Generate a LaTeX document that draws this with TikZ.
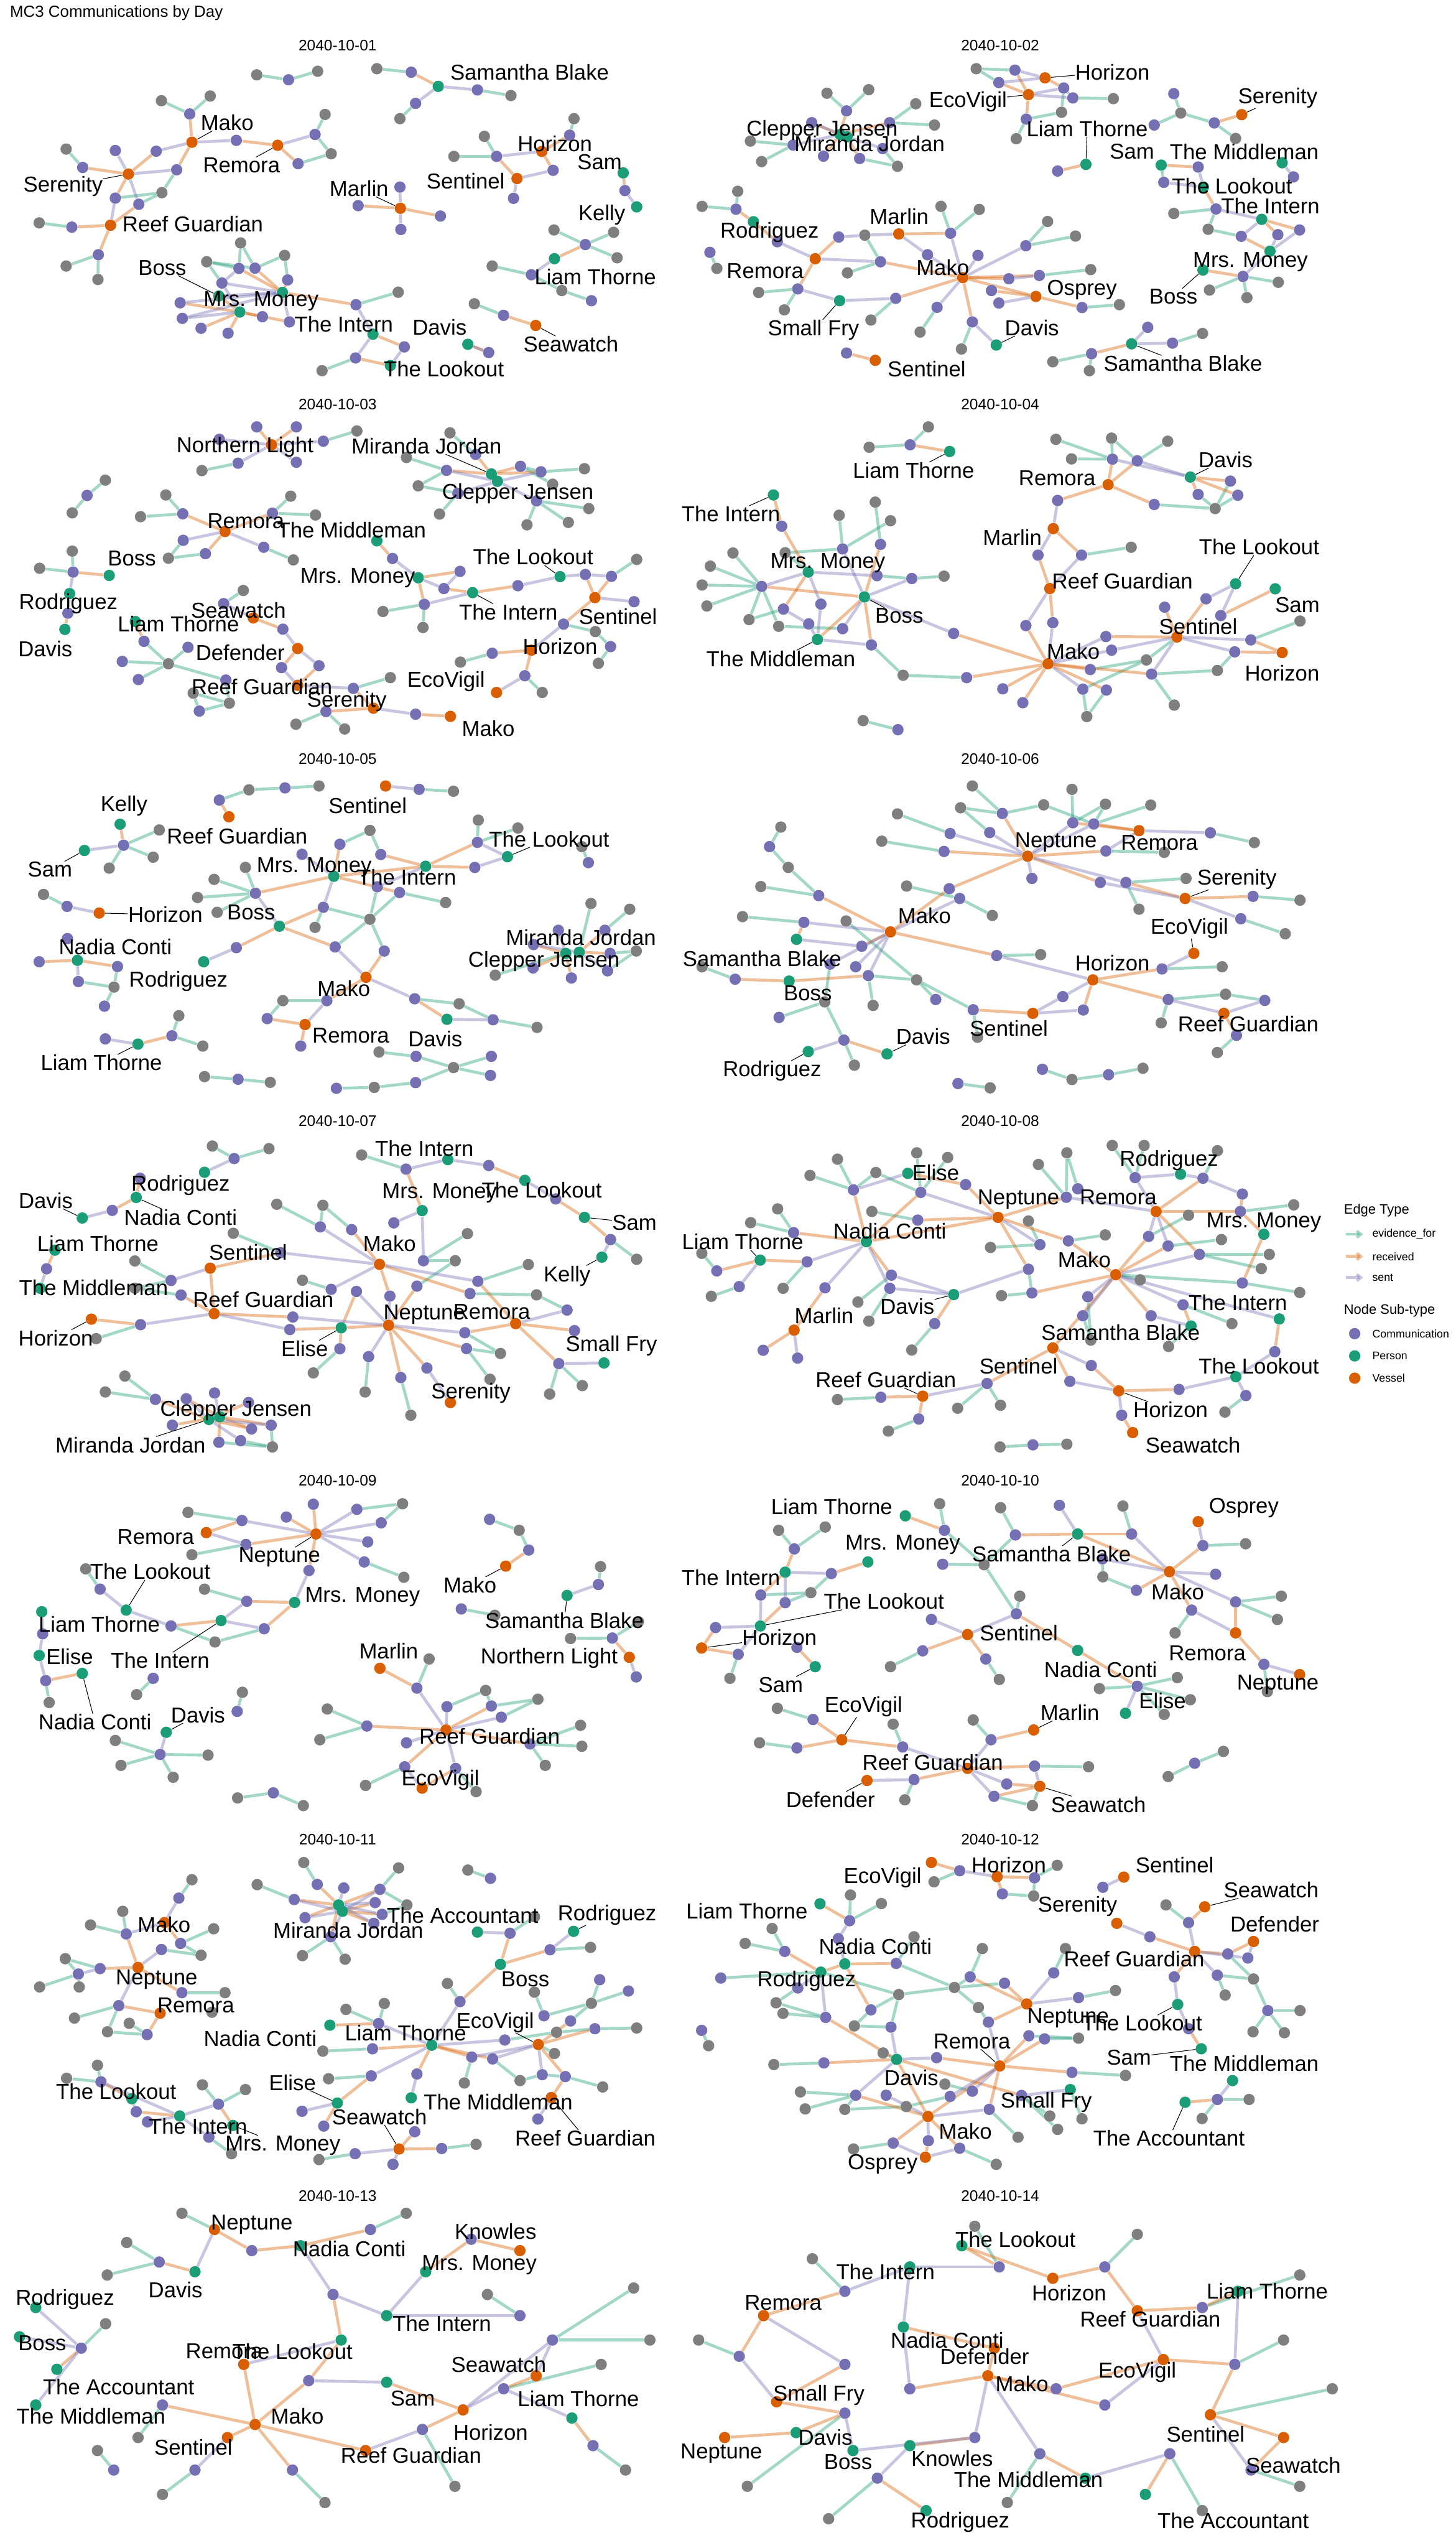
\documentclass[tikz,border=0pt]{standalone}
\usepackage{fontspec}
\setmainfont{Liberation Sans}
\usetikzlibrary{arrows.meta}
\pgfdeclarelayer{bgl}
\pgfdeclarelayer{edges}
\pgfsetlayers{bgl,edges,main}
\definecolor{cP}{HTML}{7570B3}
\definecolor{cG}{HTML}{1B9E77}
\definecolor{cO}{HTML}{D95F02}
\definecolor{cY}{HTML}{7F7F7F}
\tikzset{
 nd/.style={circle,inner sep=0pt,minimum size=7pt,draw=none},
 ed/.style={line width=1.8pt,draw opacity=0.4},
 eg/.style={ed,draw=cG}, eo/.style={ed,draw=cO}, ep/.style={ed,draw=cP},
 lbl/.style={inner sep=0pt,font=\fontsize{13.3}{14}\selectfont},
 ldr/.style={draw=black,line width=0.4pt},
 dt/.style={inner sep=0pt,font=\fontsize{9.4}{10}\selectfont},
 lgt/.style={inner sep=0pt,anchor=west,font=\fontsize{8.4}{9}\selectfont},
 lge/.style={inner sep=0pt,anchor=west,font=\fontsize{6.8}{7}\selectfont},
}
\newcommand\nds[1]{\foreach \nm/\ty/\x/\y in {#1} {\node[nd,fill=c\ty] (\nm) at (\x,\y) {};}}
\newcommand\edg[2]{\foreach \u/\v in {#2} {\draw[#1] (\u)--(\v);}}
\newcommand\lbs[1]{\foreach \nm/\x/\y/\tx in {#1} {\node[lbl] (\nm) at (\x,\y) {\tx};}}
\newcommand\ldrs[1]{\foreach \u/\v in {#1} {\draw[ldr] (\u)--(\v);}}
\begin{document}
\begin{tikzpicture}[x=1pt,y=-1pt]
\begin{pgfonlayer}{bgl}
\fill[white] (0,0) rectangle (896,1568);
\end{pgfonlayer}
\useasboundingbox (0,0) rectangle (896,1568);
\node[inner sep=0pt,anchor=west,font=\fontsize{9.9}{10}\selectfont] (title) at (6,8) {MC3 Communications by Day};
\node[dt] (d01) at (207.8,28) {2040-10-01};
\node[dt] (d02) at (615.6,28) {2040-10-02};
\node[dt] (d03) at (207.8,248.8) {2040-10-03};
\node[dt] (d04) at (615.6,248.8) {2040-10-04};
\node[dt] (d05) at (207.8,467) {2040-10-05};
\node[dt] (d06) at (615.6,467) {2040-10-06};
\node[dt] (d07) at (207.8,690) {2040-10-07};
\node[dt] (d08) at (615.6,690) {2040-10-08};
\node[dt] (d09) at (207.8,911) {2040-10-09};
\node[dt] (d10) at (615.6,911) {2040-10-10};
\node[dt] (d11) at (207.8,1132) {2040-10-11};
\node[dt] (d12) at (615.6,1132) {2040-10-12};
\node[dt] (d13) at (207.8,1351.5) {2040-10-13};
\node[dt] (d14) at (615.6,1351.5) {2040-10-14};
% legend
\node[lgt] (lgE) at (827,745) {Edge Type};
\coordinate (lgA1) at (828.5,759.5); \coordinate (lgB1) at (839,759.5);
\coordinate (lgA2) at (828.5,773.2); \coordinate (lgB2) at (839,773.2);
\coordinate (lgA3) at (828.5,786.2); \coordinate (lgB3) at (839,786.2);
\draw[eg,-{Straight Barb[length=2.5pt,width=4pt]}] (lgA1)--(lgB1);
\draw[eo,-{Straight Barb[length=2.5pt,width=4pt]}] (lgA2)--(lgB2);
\draw[ep,-{Straight Barb[length=2.5pt,width=4pt]}] (lgA3)--(lgB3);
\node[lge] (lgt1) at (844.5,759.5) {evidence\_for};
\node[lge] (lgt2) at (844.5,773.2) {received};
\node[lge] (lgt3) at (844.5,786.2) {sent};
\node[lgt] (lgN) at (827,806.4) {Node Sub-type};
\node[nd,fill=cP] (lgc1) at (833.8,820.7) {};
\node[nd,fill=cG] (lgc2) at (833.8,834.4) {};
\node[nd,fill=cO] (lgc3) at (833.8,848.1) {};
\node[lge] (lgu1) at (844.5,820.7) {Communication};
\node[lge] (lgu2) at (844.5,834.4) {Person};
\node[lge] (lgu3) at (844.5,848.1) {Vessel};
% ---------------- panel 1
\begin{scope}[shift={(0,8.75)},x=0.26786pt,y=-0.14509pt]
\nds{a1/Y/590/257,a2/P/663/278,a3/Y/730/242,a4/Y/866/231,a5/P/945/246,a6/G/1007/306,a7/P/1097/321,a8/Y/1174/345,a9/P/955/378,a10/Y/919/443,a11/Y/371/367,a12/Y/483/347,a13/P/436/423,a14/O/441/543,a15/P/543/535,a16/O/638/556,a17/P/724/510,a18/Y/747/425,a19/Y/761/592,a20/P/685/634,a21/O/295/678,a22/Y/152/572,a23/P/190/650,a24/P/265/578,a25/P/359/581,a26/P/406/660,a27/Y/372/757,a28/P/265/780,a29/P/319/806,a30/O/254/895,a31/P/165/903,a32/Y/90/885,a33/P/226/1020,a34/Y/152/1068,a35/Y/225/1125,a36/P/919/733,a37/O/920/823,a38/P/823/812,a39/P/1012/856,a40/P/921/913,a41/Y/1113/518,a42/Y/1043/603,a43/P/1141/603,a44/O/1245/582,a45/Y/1319/443,a46/P/1309/513,a47/O/1188/697,a48/P/1271/662,a49/P/1180/781,a50/G/1432/673,a51/P/1436/748,a52/G/1463/817,a53/Y/1273/915,a54/Y/1410/925,a55/P/1345/977,a56/Y/1418/1033,a57/G/1274/1037,a58/P/1221/1105,a59/Y/1131/1068,a60/Y/1291/1172,a61/P/1359/1215,a62/Y/553/970,a63/Y/475/1050,a64/Y/654/1023,a65/P/549/1078,a66/P/586/1077,a67/P/661/1127,a68/P/510/1140,a69/G/649/1180,a70/P/414/1224,a71/P/419/1290,a72/G/551/1263,a73/P/603/1283,a74/P/665/1305,a75/P/462/1332,a76/P/524/1353,a77/P/818/1232,a78/Y/915/1179,a79/G/857/1357,a80/P/929/1411,a81/P/817/1458,a82/Y/740/1512,a83/G/897/1490,a84/G/503/1195,a85/G/1075/1400,a86/P/1123/1435,a87/Y/1090/1228,a88/P/1157/1277,a89/O/1231/1320}
\begin{pgfonlayer}{edges}
\edg{eg}{a1/a2,a2/a3,a4/a5,a7/a8,a9/a10,a11/a13,a12/a13,a17/a18,a17/a19,a19/a20,a22/a23,a26/a27,a27/a28,a27/a29,a31/a32,a33/a34,a33/a35,a45/a46,a41/a43,a42/a43,a53/a55,a54/a55,a55/a56,a59/a58,a58/a60,a60/a61,a62/a65,a62/a66,a63/a65,a63/a66,a64/a66,a64/a67,a77/a78,a81/a82,a87/a88,a63/a68}
\edg{eo}{a5/a6,a13/a14,a15/a16,a16/a20,a23/a21,a21/a25,a26/a14,a21/a28,a29/a30,a30/a31,a30/a33,a38/a37,a37/a39,a44/a46,a43/a47,a44/a48,a50/a51,a55/a57,a65/a69,a66/a69,a67/a69,a70/a72,a75/a72,a76/a72,a72/a73,a72/a74,a69/a77,a79/a80,a81/a83,a88/a89,a85/a86,a84/a72}
\edg{ep}{a6/a7,a6/a9,a14/a15,a16/a17,a24/a21,a25/a14,a21/a26,a21/a29,a28/a30,a36/a37,a37/a40,a43/a44,a48/a47,a47/a49,a51/a52,a57/a58,a68/a69,a65/a68,a68/a72,a71/a72,a77/a79,a79/a81,a80/a83,a69/a74,a70/a69,a71/a69,a84/a69,a85/a86}
\end{pgfonlayer}
\lbs{aL1/1217/245/Samantha Blake,aL2/522/460/Mako,aL3/555/640/Remora,aL4/145/730/Serenity,aL5/443/890/Reef Guardian,aL6/825/740/Marlin,aL7/1275/550/Horizon,aL8/1070/708/Sentinel,aL9/1378/628/Sam,aL10/1383/850/Kelly,aL11/1368/1115/Liam Thorne,aL12/373/1075/Boss,aL13/600/1218/Mrs. Money,aL14/790/1315/The Intern,aL15/1010/1328/Davis,aL16/1020/1505/The Lookout,aL17/1312/1400/Seawatch}
\ldrs{aL2/a14,aL3/a16,aL4/a21,aL6/a37,aL12/a84,aL17/a89}
\end{scope}
% ---------------- panel 2
\begin{scope}[shift={(414.17,8.75)},x=0.26786pt,y=-0.14509pt]
\nds{b1/Y/697/231,b2/P/786/237,b3/O/855/270,b4/P/749/290,b5/P/898/313,b6/O/817/341,b7/P/919/355,b8/Y/1012/358,b9/Y/893/416,b10/P/812/445,b11/Y/789/528,b12/Y/354/335,b13/Y/450/320,b14/P/399/410,b15/Y/558/380,b16/P/498/460,b17/Y/601/470,b18/P/319/460,b19/G/384/510,b20/G/400/520,b21/Y/178/538,b22/P/276/555,b23/Y/204/625,b24/P/346/602,b25/P/429/612,b26/P/482/570,b27/Y/516/645,b28/G/949/637,b29/P/884/665,b30/P/1151/337,b31/Y/1167/419,b32/P/1106/470,b33/P/1244/461,b34/O/1307/426,b35/Y/1293/527,b36/G/1122/640,b37/P/1207/648,b38/P/1128/713,b39/G/1219/733,b40/G/1400/630,b41/P/1426/690,b42/P/1248/826,b43/Y/1151/845,b44/G/1353/870,b45/Y/1230/912,b46/P/1306/942,b47/P/1390/935,b48/P/1440/915,b49/G/1372/1005,b50/G/1218/1085,b51/P/1310/1112,b52/Y/1391/1137,b53/Y/1233/1170,b54/Y/1319/1202,b55/Y/149/751,b56/Y/67/815,b57/P/145/827,b58/G/185/880,b59/P/240/965,b60/O/327/1037,b61/P/85/1010,b62/Y/101/1078,b63/P/381/945,b64/Y/441/937,b65/O/519/932,b66/Y/616/815,b67/Y/704/828,b68/P/638/929,b69/P/585/1020,b70/P/477/1050,b71/Y/401/1097,b72/O/666/1117,b73/P/701/1023,b74/Y/861/879,b75/Y/925/941,b76/P/811/982,b77/P/772/1122,b78/P/842/1108,b79/Y/960/1083,b80/P/732/1172,b81/O/834/1197,b82/P/749/1225,b83/P/940/1244,b84/Y/1026/1232,b85/P/287/1165,b86/Y/197/1180,b87/Y/256/1254,b88/G/383/1215,b89/P/512/1205,b90/Y/455/1297,b91/P/607/1243,b92/Y/568/1348,b93/P/688/1305,b94/Y/663/1420,b95/G/743/1403,b96/P/399/1437,b97/O/465/1468,b98/P/1091/1328,b99/G/1054/1398,b100/P/1148/1395,b101/Y/1217/1354,b102/P/962/1440,b103/Y/873/1474,b104/Y/957/1512}
\begin{pgfonlayer}{edges}
\edg{eg}{b1/b2,b1/b4,b7/b8,b9/b10,b10/b11,b9/b5,b12/b14,b13/b14,b15/b16,b16/b17,b21/b22,b22/b23,b25/b27,b26/b27,b30/b31,b31/b32,b31/b33,b33/b35,b42/b43,b42/b45,b45/b46,b51/b52,b51/b53,b51/b54,b55/b57,b56/b57,b64/b70,b71/b70,b66/b68,b67/b68,b74/b76,b75/b76,b78/b79,b83/b84,b86/b85,b87/b85,b89/b90,b91/b92,b93/b94,b61/b62,b100/b101,b102/b103,b102/b104,b36/b38}
\edg{eo}{b2/b6,b4/b6,b3/b5,b6/b10,b14/b19,b16/b19,b18/b19,b19/b24,b20/b25,b29/b28,b33/b34,b36/b37,b39/b42,b44/b47,b44/b48,b46/b49,b50/b51,b57/b58,b58/b59,b63/b60,b65/b68,b70/b72,b72/b77,b72/b78,b72/b81,b80/b81,b81/b83,b60/b85,b89/b72,b72/b93,b96/b97,b99/b102}
\edg{ep}{b2/b3,b4/b3,b6/b5,b6/b7,b5/b7,b22/b19,b20/b26,b18/b20,b37/b39,b38/b39,b42/b44,b46/b44,b47/b49,b48/b49,b49/b51,b40/b41,b59/b60,b63/b64,b64/b65,b65/b69,b68/b72,b69/b72,b60/b70,b73/b72,b76/b72,b77/b78,b82/b81,b85/b88,b88/b89,b91/b72,b93/b95,b98/b99,b99/b100}
\end{pgfonlayer}
\lbs{bL1/1010/245/Horizon,bL2/678/370/EcoVigil,bL3/343/492/Clepper Jensen,bL4/452/550/Miranda Jordan,bL5/952/485/Liam Thorne,bL6/1390/355/Serenity,bL7/1055/583/Sam,bL8/1313/583/The Middleman,bL9/1285/730/The Lookout,bL10/1373/812/The Intern,bL11/1327/1052/Mrs. Money,bL12/1150/1197/Boss,bL13/222/925/Rodriguez,bL14/212/1090/Remora,bL15/520/858/Marlin,bL16/620/1075/Mako,bL17/940/1170/Osprey,bL18/323/1340/Small Fry,bL19/825/1330/Davis,bL20/583/1505/Sentinel,bL21/1172/1482/Samantha Blake}
\ldrs{bL1/b3,bL2/b6,bL5/b28,bL6/b34,bL12/b50,bL18/b88,bL19/b95,bL21/b99}
\end{scope}
% ---------------- panel 3
\begin{scope}[shift={(0,236.25)},x=0.26786pt,y=-0.14696pt]
\nds{c1/P/590/180,c2/P/681/180,c3/O/624/255,c4/P/504/232,c5/P/743/240,c6/Y/820/197,c7/P/547/332,c8/Y/464/363,c9/P/681/328,c10/Y/1034/205,c11/P/1093/295,c12/Y/934/308,c13/P/1026/362,c14/G/1129/377,c15/G/1143/408,c16/P/1196/345,c17/P/1243/368,c18/Y/1343/355,c19/Y/1270/420,c20/Y/961/427,c21/P/1052/458,c22/P/1233/490,c23/Y/1353/522,c24/Y/1010/545,c25/Y/1211/590,c26/Y/1306/580,c27/Y/242/403,c28/P/200/467,c29/Y/166/540,c30/Y/381/465,c31/Y/668/470,c32/P/420/544,c33/Y/323/556,c34/P/626/541,c35/Y/725/549,c36/O/517/618,c37/P/421/655,c38/P/472/711,c39/Y/387/730,c40/P/606/684,c41/Y/674/737,c42/Y/166/700,c43/Y/91/772,c44/P/168/788,c45/G/251/802,c46/G/160/878,c47/P/156/960,c48/G/149/1028,c49/G/866/657,c50/P/902/731,c51/G/961/812,c52/P/1057/785,c53/P/1020/857,c54/G/1086/874,c55/P/975/923,c56/Y/880/953,c57/Y/972/1020,c58/P/1190/845,c59/G/1287/807,c60/P/1345/798,c61/P/1405/806,c62/Y/1463/735,c63/O/1367/895,c64/P/1457/912,c65/P/1295/1006,c66/Y/1368/1037,c67/P/1403/1100,c68/Y/1375/1170,c69/O/1221/1115,c70/P/1131/1128,c71/Y/1058/1165,c72/P/1206/1222,c73/Y/1246/1292,c74/O/1141/1292,c75/Y/559/865,c76/P/514/920,c77/O/582/980,c78/P/650/1027,c79/O/684/1108,c80/P/733/1180,c81/P/647/1188,c82/O/684/1262,c83/P/812/1275,c84/Y/897/1230,c85/G/311/995,c86/P/331/1078,c87/P/432/1103,c88/P/281/1162,c89/Y/387/1172,c90/P/318/1238,c91/P/519/1240,c92/Y/444/1295,c93/Y/527/1337,c94/P/458/1370,c95/O/858/1358,c96/P/749/1372,c97/Y/680/1425,c98/Y/792/1445,c99/P/955/1383,c100/O/1035/1392}
\begin{pgfonlayer}{edges}
\edg{eg}{c5/c6,c7/c8,c10/c11,c12/c13,c16/c17,c17/c18,c16/c19,c20/c13,c20/c21,c21/c24,c22/c23,c22/c25,c22/c26,c27/c28,c28/c29,c30/c32,c33/c32,c31/c34,c34/c35,c37/c39,c38/c39,c40/c41,c42/c44,c43/c44,c56/c55,c55/c57,c61/c62,c65/c66,c66/c67,c67/c68,c70/c71,c72/c73,c75/c76,c83/c84,c86/c89,c87/c89,c88/c89,c89/c90,c89/c91,c92/c94,c93/c94,c92/c93,c96/c97,c96/c98,c91/c93}
\edg{eo}{c1/c3,c2/c3,c13/c14,c11/c14,c14/c16,c14/c17,c32/c36,c34/c36,c36/c38,c44/c45,c47/c48,c49/c50,c51/c52,c53/c54,c51/c55,c54/c58,c60/c63,c61/c63,c63/c65,c70/c69,c69/c72,c77/c78,c79/c81,c80/c82,c83/c95,c85/c86,c96/c95,c99/c100}
\edg{ep}{c4/c3,c3/c7,c3/c9,c3/c5,c13/c15,c15/c17,c21/c15,c22/c15,c36/c37,c36/c40,c44/c46,c46/c47,c50/c51,c52/c53,c51/c53,c55/c54,c58/c59,c59/c60,c60/c61,c63/c64,c65/c69,c72/c74,c76/c77,c78/c79,c79/c80,c81/c82,c82/c83,c95/c99}
\end{pgfonlayer}
\lbs{cL1/563/265/Northern Light,cL2/980/260/Miranda Jordan,cL3/1190/460/Clepper Jensen,cL4/565/575/Remora,cL5/808/612/The Middleman,cL6/303/730/Boss,cL7/157/920/Rodriguez,cL8/104/1110/Davis,cL9/1225/725/The Lookout,cL10/822/812/Mrs. Money,cL11/1168/955/The Intern,cL12/1420/975/Sentinel,cL13/1287/1098/Horizon,cL14/1025/1245/EcoVigil,cL15/548/948/Seawatch,cL16/410/1005/Liam Thorne,cL17/552/1125/Defender,cL18/602/1268/Reef Guardian,cL19/797/1330/Serenity,cL20/1122/1442/Mako}
\ldrs{cL2/c14,cL9/c59,cL11/c54}
\end{scope}
% ---------------- panel 4
\begin{scope}[shift={(414.17,236.25)},x=0.26786pt,y=-0.14696pt]
\nds{d1/Y/587/180,d2/P/545/255,d3/Y/451/265,d4/G/636/283,d5/Y/880/232,d6/Y/1008/227,d7/Y/1137/240,d8/Y/916/314,d9/P/1010/315,d10/P/1067/322,d11/O/1000/422,d12/G/1189/390,d13/P/1281/407,d14/P/1298/466,d15/P/1207/463,d16/Y/1246/522,d17/P/1106/505,d18/P/884/488,d19/O/874/606,d20/P/839/717,d21/P/939/717,d22/Y/1053/684,d23/O/866/857,d24/P/811/1012,d25/P/873/1000,d26/O/862/1172,d27/P/995/1058,d28/P/1008/1115,d29/P/959/1196,d30/Y/1088/1156,d31/P/1100/1215,d32/P/942/1278,d33/P/996/1282,d34/Y/951/1393,d35/P/758/1277,d36/P/804/1335,d37/P/675/1230,d38/Y/529/1220,d39/P/645/1045,d40/O/1158/1060,d41/P/1130/935,d42/P/1225/900,d43/G/1293/837,d44/P/1259/970,d45/G/1384/858,d46/P/1328/1072,d47/Y/1441/993,d48/P/1291/1122,d49/O/1400/1125,d50/Y/1251/1200,d51/Y/1152/1345,d52/G/231/465,d53/P/250/596,d54/Y/465/495,d55/Y/382/550,d56/Y/500/573,d57/P/477/672,d58/P/390/691,d59/Y/258/707,d60/Y/138/708,d61/Y/86/763,d62/G/311/788,d63/P/469/803,d64/P/549/815,d65/Y/623/805,d66/P/204/848,d67/Y/67/842,d68/Y/78/930,d69/G/440/892,d70/P/340/922,d71/P/254/943,d72/Y/175/987,d73/Y/243/1015,d74/P/312/1005,d75/P/390/1025,d76/G/332/1070,d77/P/456/1093,d78/Y/437/1410,d79/P/517/1448}
\begin{pgfonlayer}{edges}
\edg{eg}{d1/d2,d3/d2,d5/d9,d6/d9,d6/d10,d7/d10,d8/d9,d15/d16,d14/d16,d13/d16,d17/d16,d21/d22,d29/d30,d32/d30,d30/d40,d32/d34,d33/d34,d31/d50,d31/d51,d46/d47,d48/d50,d37/d38,d55/d58,d54/d57,d56/d58,d59/d58,d60/d66,d61/d66,d67/d66,d68/d66,d63/d64,d64/d65,d66/d72,d66/d73,d72/d71,d73/d75,d77/d38,d78/d79,d59/d62}
\edg{eo}{d2/d4,d9/d11,d10/d11,d12/d13,d12/d14,d12/d15,d11/d17,d11/d18,d19/d21,d20/d23,d23/d25,d24/d26,d26/d29,d26/d31,d26/d33,d26/d35,d26/d36,d26/d37,d39/d26,d27/d40,d41/d40,d40/d42,d44/d45,d46/d49,d48/d49,d52/d53,d53/d62,d57/d69,d66/d69,d62/d71,d69/d76,d69/d77}
\edg{ep}{d10/d12,d9/d12,d18/d19,d19/d20,d21/d23,d23/d24,d25/d26,d27/d26,d28/d26,d28/d40,d31/d40,d42/d43,d43/d44,d40/d46,d40/d48,d26/d32,d58/d69,d66/d62,d62/d63,d69/d64,d62/d70,d69/d75,d70/d76,d71/d74,d74/d76,d76/d77,d39/d69}
\end{pgfonlayer}
\lbs{dL1/553/362/Liam Thorne,dL2/883/395/Remora,dL3/1270/318/Davis,dL4/780/643/Marlin,dL5/1033/825/Reef Guardian,dL6/920/1120/Mako,dL7/1207/1015/Sentinel,dL8/1347/683/The Lookout,dL9/1435/925/Sam,dL10/1400/1210/Horizon,dL11/133/545/The Intern,dL12/356/750/Mrs. Money,dL13/520/970/Boss,dL14/248/1150/The Middleman}
\ldrs{dL1/d4,dL3/d12,dL8/d43,dL11/d52,dL13/d69,dL14/d76}
\end{scope}
% ---------------- panel 5
\begin{scope}[shift={(0,469.58)},x=0.26786pt,y=-0.14696pt]
\nds{e1/P/504/155,e2/Y/572/112,e3/P/655/104,e4/Y/733/96,e5/O/526/225,e6/O/886/96,e7/P/963/110,e8/Y/1042/118,e9/G/276/256,e10/Y/366/280,e11/P/284/344,e12/G/194/366,e13/Y/352/394,e14/Y/251/440,e15/Y/100/550,e16/P/154/600,e17/O/228/628,e18/P/155/735,e19/P/90/832,e20/G/178/826,e21/P/270/852,e22/P/180/915,e23/Y/262/938,e24/P/240/1018,e25/P/242/1155,e26/G/317/1177,e27/P/395/1142,e28/Y/411/1058,e29/Y/466/1185,e30/Y/470/1313,e31/P/547/1324,e32/Y/621/1337,e33/Y/850/282,e34/P/781/340,e35/P/694/382,e36/P/875/383,e37/Y/1099/239,e38/Y/1190/272,e39/P/1097/332,e40/Y/1337/350,e41/P/1352/417,e42/G/1166/392,e43/G/978/432,e44/P/1091/437,e45/Y/564/437,e46/Y/492/487,e47/G/767/474,e48/P/587/545,e49/Y/454/563,e50/P/867/518,e51/P/918/542,e52/Y/1024/584,e53/Y/499/625,e54/P/743/604,e55/Y/850/654,e56/G/642/683,e57/Y/724/688,e58/P/770/770,e59/P/883/787,e60/O/841/897,e61/P/543/773,e62/G/468/832,e63/P/953/987,e64/Y/1055/1008,e65/G/1027/1073,e66/P/1133/1075,e67/Y/1234/1107,e68/P/751/995,e69/Y/650/995,e70/P/614/1070,e71/O/701/1095,e72/P/691/1185,e73/Y/1358/588,e74/Y/1447/612,e75/P/1283/700,e76/P/1390/700,e77/P/1226/760,e78/G/1300/797,e79/G/1331/792,e80/P/1402/797,e81/Y/1462/787,e82/P/1225/858,e83/P/1396/870,e84/Y/1138/888,e85/P/1313/900,e86/Y/871/1210,e87/P/956/1228,e88/Y/1042/1275,e89/P/1129/1228,e90/P/1127/1308,e91/P/955/1338,e92/Y/860/1358,e93/P/773/1362}
\begin{pgfonlayer}{edges}
\edg{eg}{e1/e2,e2/e3,e3/e4,e7/e8,e10/e11,e11/e13,e11/e14,e15/e16,e22/e23,e21/e23,e23/e24,e27/e28,e27/e29,e30/e31,e31/e32,e33/e34,e33/e36,e37/e39,e38/e39,e40/e41,e51/e52,e45/e48,e46/e48,e49/e48,e53/e48,e54/e55,e54/e57,e50/e55,e51/e55,e55/e58,e55/e59,e63/e64,e64/e66,e66/e67,e69/e68,e69/e70,e73/e79,e74/e76,e80/e81,e84/e78,e81/e83,e86/e87,e87/e88,e88/e89,e88/e90,e88/e91,e91/e92,e92/e93}
\edg{eo}{e1/e5,e9/e11,e19/e20,e20/e21,e26/e27,e34/e47,e36/e43,e43/e39,e44/e43,e47/e43,e47/e51,e48/e47,e54/e56,e56/e58,e61/e56,e59/e60,e63/e65,e60/e68,e70/e71,e71/e72,e77/e78,e76/e79,e79/e80,e78/e82,e85/e78}
\edg{ep}{e6/e7,e12/e11,e16/e17,e20/e22,e25/e26,e35/e47,e39/e42,e42/e44,e50/e43,e48/e56,e47/e54,e62/e61,e58/e60,e60/e63,e65/e66,e68/e71,e75/e78,e77/e79,e83/e79}
\end{pgfonlayer}
\lbs{eL1/545/307/Reef Guardian,eL2/845/178/Sentinel,eL3/285/180/Kelly,eL4/115/445/Sam,eL5/380/635/Horizon,eL6/265/770/Nadia Conti,eL7/410/915/Rodriguez,eL8/233/1255/Liam Thorne,eL9/722/435/Mrs. Money,eL10/935/478/The Intern,eL11/1262/318/The Lookout,eL12/577/625/Boss,eL13/790/945/Mako,eL14/806/1140/Remora,eL15/1000/1155/Davis,eL16/1335/730/Miranda Jordan,eL17/1250/830/Clepper Jensen}
\ldrs{eL4/e12,eL5/e17,eL8/e26,eL11/e42}
\end{scope}
% ---------------- panel 6
\begin{scope}[shift={(414.17,469.58)},x=0.26786pt,y=-0.14696pt]
\nds{f1/Y/688/96,f2/Y/917/110,f3/Y/661/187,f4/P/757/211,f5/Y/852/175,f6/Y/994/172,f7/Y/1098/176,f8/Y/516/213,f9/P/919/250,f10/P/967/255,f11/O/1071/283,f12/P/1235/292,f13/Y/1336/333,f14/P/637/295,f15/P/728/291,f16/Y/480/327,f17/P/623/370,f18/O/815/390,f19/P/995/368,f20/Y/1129/374,f21/P/825/483,f22/P/982/500,f23/P/1041/500,f24/Y/1179/483,f25/O/1177/567,f26/P/1333/558,f27/Y/1441/574,f28/Y/1071/612,f29/P/1305/652,f30/Y/1407/715,f31/P/635/526,f32/P/659/567,f33/Y/537/515,f34/Y/734/638,f35/O/500/707,f36/Y/248/268,f37/P/222/350,f38/Y/265/437,f39/P/335/555,f40/Y/202/517,f41/Y/160/643,f42/P/301/667,f43/Y/398/661,f44/G/284/738,f45/P/434/767,f46/P/361/842,f47/P/420/853,f48/P/449/890,f49/Y/67/853,f50/P/143/905,f51/G/267/913,f52/Y/560/908,f53/P/604/990,f54/Y/460/1015,f55/Y/349/1000,f56/P/244/1065,f57/P/690/1033,f58/O/827/1048,f59/P/943/1034,f60/P/896/978,f61/O/965/908,f62/P/1124/862,f63/Y/1262/853,f64/O/1197/797,f65/P/744/806,f66/Y/845/802,f67/P/1138/990,f68/Y/1270/968,f69/P/1360/994,f70/O/1266/1048,f71/Y/1122/1088,f72/P/1295/1140,f73/Y/1251/1212,f74/P/393/1160,f75/G/311/1208,f76/G/492/1218,f77/Y/417/1265,f78/Y/700/1148,f79/P/849/1282,f80/Y/917/1325,f81/P/1001/1305,f82/Y/1080/1278,f83/P/655/1342,f84/Y/729/1360}
\begin{pgfonlayer}{edges}
\edg{eg}{f1/f4,f3/f4,f4/f5,f5/f10,f2/f9,f6/f9,f6/f10,f7/f10,f12/f13,f8/f14,f3/f15,f16/f17,f19/f20,f23/f24,f26/f27,f23/f28,f29/f30,f33/f32,f32/f34,f36/f37,f37/f38,f38/f39,f40/f39,f41/f42,f43/f52,f49/f50,f48/f52,f52/f53,f52/f57,f48/f54,f46/f55,f55/f56,f55/f74,f74/f77,f65/f66,f62/f63,f67/f68,f68/f69,f67/f71,f72/f73,f57/f78,f79/f80,f80/f81,f81/f82,f83/f84}
\edg{eo}{f4/f18,f9/f11,f10/f11,f17/f18,f18/f19,f18/f22,f23/f25,f25/f26,f18/f31,f39/f35,f35/f45,f35/f31,f50/f51,f51/f48,f74/f76,f35/f65,f57/f58,f59/f61,f61/f62,f61/f67,f70/f72,f42/f44}
\edg{ep}{f11/f12,f14/f18,f15/f18,f9/f18,f10/f18,f19/f11,f18/f21,f18/f23,f22/f25,f25/f29,f35/f32,f42/f35,f44/f45,f35/f46,f35/f47,f35/f48,f74/f75,f65/f61,f58/f59,f60/f58,f60/f61,f62/f64,f69/f70,f67/f70}
\end{pgfonlayer}
\lbs{fL1/880/333/Neptune,fL2/1118/333/Remora,fL3/1296/487/Serenity,fL4/1187/692/EcoVigil,fL5/578/640/Mako,fL6/205/820/Samantha Blake,fL7/310/965/Boss,fL8/1010/838/Horizon,fL9/772/1112/Sentinel,fL10/1322/1093/Reef Guardian,fL11/575/1145/Davis,fL12/228/1290/Rodriguez}
\ldrs{fL3/f25,fL4/f64,fL11/f76,fL12/f75}
\end{scope}
% ---------------- panel 7
\begin{scope}[shift={(0,702.92)},x=0.26786pt,y=-0.13022pt]
\nds{g1/Y/488/18,g2/Y/618/30,g3/P/538/77,g4/G/470/142,g5/P/322/170,g6/G/313/261,g7/P/258/322,g8/G/189/358,g9/G/126/510,g10/P/107/598,g11/G/92/690,g12/O/210/836,g13/P/323/862,g14/Y/221/928,g15/O/492/810,g16/Y/536/430,g17/Y/310/561,g18/P/393/653,g19/O/483/595,g20/P/416/722,g21/Y/310/690,g22/P/673/826,g23/P/666/885,g24/P/645/522,g26/O/872/577,g27/Y/636/293,g28/Y/742/298,g29/P/736/400,g30/O/893/865,g31/G/784/877,g32/P/808/413,g33/P/905/381,g34/G/970/323,g35/P/933/127,g36/Y/831/60,g37/G/1029/82,g38/P/1123/110,g39/G/1206/180,g40/P/1277/268,g41/G/1343/355,g42/P/1403/460,g43/Y/1463/553,g44/G/1383/543,g45/Y/1074/432,g46/P/973/560,g47/Y/1046/560,g48/Y/1214/578,g49/P/1098/657,g50/P/1080/715,g51/Y/1233/721,g52/P/958/680,g53/P/896/727,g54/P/819/705,g55/P/761/695,g56/Y/695/652,g57/O/1185/857,g58/P/1303/793,g59/P/1320/890,g60/P/1068/900,g61/P/1072/975,g62/Y/1150/998,g63/P/1284/1046,g64/G/1388/1043,g65/Y/1263/1190,g66/Y/1338/1150,g67/P/781/976,g68/Y/720/1090,g69/P/847/1013,g70/Y/839/1180,g71/P/921/1112,g72/Y/944/1290,g73/P/981/1067,g74/Y/1126/1120,g75/O/1035/1230,g76/Y/287/1105,g77/Y/242/1180,g78/P/357/1215,g79/P/428/1212,g80/P/493/1185,g81/P/571/1230,g82/G/480/1310,g83/G/505/1297,g84/P/396/1337,g85/P/623/1337,g86/P/578/1355,g87/P/503/1418,g88/P/553/1410,g89/Y/626/1440}
\begin{pgfonlayer}{edges}
\edg{eg}{g1/g3,g2/g3,g16/g24,g17/g18,g18/g21,g21/g20,g13/g14,g27/g29,g28/g32,g28/g29,g36/g35,g42/g43,g45/g46,g46/g47,g47/g52,g49/g48,g50/g51,g56/g55,g58/g51,g61/g62,g60/g62,g61/g74,g63/g65,g63/g66,g67/g68,g69/g70,g71/g72,g76/g78,g77/g78,g87/g89,g88/g89,g85/g89}
\edg{eo}{g6/g7,g5/g6,g9/g10,g12/g13,g19/g24,g19/g15,g20/g15,g15/g22,g23/g31,g32/g26,g38/g39,g40/g41,g41/g42,g35/g34,g26/g50,g26/g53,g49/g57,g57/g59,g57/g60,g30/g61,g57/g63,g30/g31,g30/g52,g54/g31,g31/g67,g30/g71,g30/g73,g78/g82,g79/g83,g81/g82,g84/g83,g83/g85,g82/g86,g83/g87,g83/g86}
\edg{ep}{g3/g4,g7/g8,g10/g11,g13/g15,g24/g26,g18/g19,g15/g23,g22/g30,g29/g26,g35/g37,g37/g38,g39/g40,g42/g44,g34/g33,g34/g46,g26/g49,g26/g55,g57/g58,g30/g60,g63/g64,g54/g30,g69/g30,g73/g75,g79/g82,g80/g83,g82/g85,g82/g88,g53/g30}
\end{pgfonlayer}
\lbs{gL1/975/30/The Intern,gL2/1010/240/Mrs. Money,gL3/1245/225/The Lookout,gL4/1458/380/Sam,gL5/1303/632/Kelly,gL6/895/480/Mako,gL7/570/520/Sentinel,gL8/605/742/Reef Guardian,gL9/975/815/Neptune,gL10/1130/800/Remora,gL11/700/975/Elise,gL12/1405/962/Small Fry,gL13/1082/1185/Serenity,gL14/542/1268/Clepper Jensen,gL15/300/1430/Miranda Jordan,gL16/415/205/Rodriguez,gL17/105/275/Davis,gL18/415/355/Nadia Conti,gL19/225/478/Liam Thorne,gL20/215/688/The Middleman,gL21/128/925/Horizon}
\ldrs{gL4/g41,gL5/g44,gL11/g31,gL15/g82,gL17/g8,gL18/g6,gL21/g12}
\end{scope}
% ---------------- panel 8
\begin{scope}[shift={(414.17,702.92)},x=0.30692pt,y=-0.13022pt]
\nds{h1/Y/330/80,h2/Y/489/50,h3/Y/551/72,h4/Y/275/157,h5/Y/407/143,h6/G/471/147,h7/P/362/225,h8/P/497/237,h9/P/587/200,h10/Y/210/315,h11/Y/156/380,h12/P/242/427,h13/Y/399/327,h14/P/491/368,h15/G/388/470,h16/O/652/355,h17/Y/733/105,h18/Y/790/50,h19/P/812/220,h20/P/789/260,h21/Y/881/15,h22/Y/945/15,h23/Y/1092/40,h24/P/927/167,h25/G/1018/151,h26/P/1063/170,h27/P/1142/245,h28/O/969/327,h29/Y/1034/345,h30/P/1138/327,h31/Y/1245/296,h32/G/1185/435,h33/Y/713/372,h34/P/736/484,h35/Y/637/497,h36/P/793/466,h37/Y/867/438,h38/P/954/445,h39/P/993/490,h40/Y/1100/460,h41/P/1056/530,h42/Y/1196/530,h43/Y/1180/597,h44/O/888/626,h45/P/713/600,h46/Y/937/650,h47/P/1142/665,h48/Y/1257/710,h49/G/175/557,h50/P/88/608,h51/P/269/565,h52/Y/58/525,h53/P/133/682,h54/Y/77/728,h55/Y/221/690,h56/P/438/628,h57/P/435/690,h58/P/305/688,h59/G/563/720,h60/Y/659/725,h61/P/720/712,h62/Y/371/755,h63/Y/393/845,h64/P/525/857,h65/Y/479/982,h66/O/243/888,h67/P/181/983,h68/P/250/1020,h69/P/832/730,h70/P/822/820,h71/P/1023/768,h72/P/959/820,h73/G/1039/868,h74/Y/1121/857,h75/G/1216/835,h76/Y/838/935,h77/Y/994/965,h78/O/762/972,h79/P/839/1055,h80/P/630/1140,h81/P/796/1130,h82/O/894/1175,h83/P/1015/1168,h84/G/1129/1108,h85/P/1207/990,h86/P/1149/1197,h87/Y/1107/1275,h88/P/900/1290,h89/O/922/1372,h90/O/501/1200,h91/P/417/1205,h92/Y/330/1216,h93/P/493/1308,h94/Y/432/1365,h95/Y/571/1257,h96/Y/657/1243,h97/Y/656/1440,h98/P/722/1430,h99/Y/790/1427}
\begin{pgfonlayer}{edges}
\edg{eg}{h1/h7,h4/h7,h5/h7,h5/h8,h2/h8,h3/h8,h10/h12,h11/h12,h13/h14,h17/h20,h18/h20,h33/h34,h35/h34,h36/h37,h30/h31,h38/h29,h39/h40,h41/h42,h41/h43,h45/h61,h47/h48,h46/h44,h71/h74,h86/h87,h69/h76,h92/h91,h93/h94,h80/h95,h80/h96,h97/h98,h98/h99,h64/h65,h50/h52,h53/h54,h51/h55,h56/h62,h57/h63,h44/h47,h21/h24,h22/h24,h23/h26,h18/h19,h70/h76,h77/h73,h60/h61}
\edg{eo}{h6/h9,h7/h15,h8/h15,h9/h16,h12/h15,h14/h16,h15/h16,h15/h56,h16/h20,h16/h36,h36/h44,h27/h30,h28/h30,h26/h28,h28/h41,h30/h32,h38/h44,h39/h44,h44/h72,h71/h73,h75/h85,h83/h82,h44/h78,h78/h80,h79/h82,h78/h81,h88/h89,h91/h90,h90/h93,h59/h64,h66/h58,h66/h67,h50/h49,h49/h51,h16/h45,h61/h44,h32/h47}
\edg{ep}{h7/h6,h8/h16,h15/h51,h15/h58,h15/h57,h20/h28,h16/h34,h24/h28,h24/h25,h25/h26,h26/h27,h28/h38,h28/h39,h41/h44,h45/h59,h85/h84,h84/h83,h84/h86,h44/h69,h44/h70,h44/h71,h72/h73,h78/h79,h81/h82,h82/h88,h90/h80,h56/h59,h57/h59,h66/h68,h49/h53,h44/h75}
\end{pgfonlayer}
\lbs{hL1/527/145/Elise,hL2/693/270/Neptune,hL3/893/260/Remora,hL4/995/85/Rodriguez,hL5/435/420/Nadia Conti,hL6/140/470/Liam Thorne,hL7/1185/380/Mrs. Money,hL8/825/555/Mako,hL9/470/775/Davis,hL10/303/820/Marlin,hL11/1133/757/The Intern,hL12/898/900/Samantha Blake,hL13/693/1058/Sentinel,hL14/1175/1058/The Lookout,hL15/427/1122/Reef Guardian,hL16/998/1265/Horizon,hL17/1043/1432/Seawatch}
\ldrs{hL6/h49,hL9/h59,hL15/h90,hL16/h82}
\end{scope}
% ---------------- panel 9
\begin{scope}[shift={(0,904.17)},x=0.26786pt,y=-0.14324pt]
\nds{i1/Y/432/185,i2/P/556/220,i3/P/658/205,i4/P/720/150,i5/P/820/172,i6/Y/925/148,i7/P/876/230,i8/O/474/272,i9/O/726/278,i10/P/565/323,i11/Y/441/367,i12/P/845/312,i13/P/837/398,i14/Y/928/464,i15/P/710/435,i16/Y/197/428,i17/P/230/515,i18/G/290/605,i19/P/393/673,i20/G/508/650,i21/P/567/567,i22/G/677/572,i23/Y/470/515,i24/P/607/685,i25/Y/494/742,i26/G/96/612,i27/P/98/707,i28/G/90/800,i29/P/105/908,i30/G/189/877,i31/Y/113/1002,i32/P/352/898,i33/Y/314/968,i34/Y/557/958,i35/P/545/1040,i36/G/382/1130,i37/P/368/1225,i38/Y/265/1165,i39/Y/478/1228,i40/Y/278/1272,i41/Y/398/1323,i42/Y/546/1412,i43/P/628/1390,i44/Y/697/1445,i45/P/1125/215,i46/Y/1193/262,i47/P/1215/347,i48/O/1162/416,i49/Y/1380/418,i50/P/1375/495,i51/G/1303/542,i52/P/1060/600,i53/Y/1137/627,i54/Y/1311/727,i55/P/1407/725,i56/Y/1467/655,i57/O/1446/808,i58/P/1462/892,i59/O/873/855,i60/P/958/940,i61/Y/986/815,i62/Y/1116/950,i63/P/1027/1020,i64/P/1129/1017,i65/Y/1236/988,i66/P/1152/1065,i67/Y/752/1030,i68/P/843/1103,i69/Y/735/1162,i70/O/1025/1120,i71/P/934/1175,i72/P/1218/1180,i73/Y/1334/1100,i74/Y/1337/1190,i75/Y/1253/1272,i76/P/930/1278,i77/P/1047/1285,i78/Y/840/1358,i79/O/970/1370,i80/Y/1094/1385}
\begin{pgfonlayer}{edges}
\edg{eg}{i1/i2,i5/i6,i6/i7,i11/i10,i13/i14,i16/i17,i23/i21,i19/i25,i25/i24,i29/i31,i32/i33,i34/i35,i37/i38,i37/i39,i37/i40,i37/i41,i42/i43,i43/i44,i45/i46,i46/i47,i49/i50,i52/i53,i54/i55,i55/i56,i61/i60,i62/i63,i62/i64,i64/i65,i65/i66,i67/i68,i69/i68,i72/i73,i72/i74,i72/i75,i78/i76,i77/i80}
\edg{eo}{i2/i8,i3/i9,i4/i9,i10/i9,i9/i15,i19/i20,i21/i22,i24/i22,i29/i30,i47/i48,i55/i57,i59/i60,i64/i70,i68/i70,i70/i72,i70/i76,i77/i79}
\edg{ep}{i2/i9,i9/i5,i9/i7,i8/i10,i9/i12,i9/i13,i17/i18,i18/i19,i20/i21,i22/i15,i20/i24,i26/i27,i27/i28,i28/i29,i36/i37,i51/i50,i57/i58,i60/i70,i63/i70,i66/i70,i70/i71,i70/i77,i76/i79}
\end{pgfonlayer}
\lbs{iL1/358/290/Remora,iL2/642/378/Neptune,iL3/345/440/The Lookout,iL4/833/548/Mrs. Money,iL5/368/822/The Intern,iL6/228/665/Liam Thorne,iL7/160/805/Elise,iL8/218/1085/Nadia Conti,iL9/455/1055/Davis,iL10/1080/498/Mako,iL11/1297/650/Samantha Blake,iL12/1262/812/Northern Light,iL13/893/780/Marlin,iL14/1125/1148/Reef Guardian,iL15/1012/1335/EcoVigil}
\ldrs{iL2/i9,iL3/i18,iL5/i20,iL8/i30,iL9/i36,iL10/i48,iL11/i51}
\end{scope}
% ---------------- panel 10
\begin{scope}[shift={(414.17,904.17)},x=0.26786pt,y=-0.14324pt]
\nds{j1/G/534/200,j2/Y/613/148,j3/P/624/262,j4/Y/753/165,j5/P/787/282,j6/P/888/155,j7/G/930/278,j8/Y/1034/158,j9/P/1054/278,j10/O/1207/225,j11/P/1218/328,j12/Y/1316/320,j13/O/1141/440,j14/P/1247/451,j15/P/987/385,j16/Y/988/462,j17/P/1065/520,j18/P/620/408,j19/Y/715/410,j20/Y/797/545,j21/P/789/621,j22/P/1293/570,j23/Y/1398/545,j24/Y/1389/645,j25/P/1192/605,j26/Y/1154/703,j27/O/1293/703,j28/P/1358/838,j29/O/1440/882,j30/Y/1366/955,j31/Y/243/262,j32/Y/350/248,j33/P/279/342,j34/G/258/442,j35/P/364/448,j36/G/448/398,j37/Y/317/530,j38/P/202/540,j39/P/258/573,j40/G/201/673,j41/P/98/680,j42/O/66/768,j43/P/150/795,j44/Y/131/898,j45/P/285/765,j46/G/327/848,j47/P/594/645,j48/O/677/710,j49/P/574/780,j50/Y/500/848,j51/P/719/815,j52/Y/750/903,j53/G/930/778,j54/P/1067/932,j55/Y/980/942,j56/Y/1159/895,j57/Y/1189/990,j58/G/1040/1048,j59/Y/1129/1053,j60/Y/240/1027,j61/P/322/1075,j62/O/388/1162,j63/Y/199/1175,j64/P/285/1197,j65/Y/506/1095,j66/P/528/1193,j67/Y/690/1077,j68/P/731/1162,j69/O/829/1120,j70/O/677/1285,j71/P/831/1275,j72/Y/955/1278,j73/O/446/1337,j74/P/554/1333,j75/Y/533/1420,j76/P/767/1352,j77/O/843/1362,j78/P/738/1405,j79/Y/826/1445,j80/Y/1265/1212,j81/P/1199/1263,j82/Y/1138/1320}
\begin{pgfonlayer}{edges}
\edg{eg}{j2/j3,j3/j19,j4/j5,j8/j9,j11/j12,j15/j16,j16/j17,j18/j19,j19/j21,j20/j21,j22/j23,j22/j24,j25/j26,j28/j30,j31/j33,j32/j33,j35/j37,j37/j38,j37/j39,j43/j44,j49/j50,j51/j52,j55/j54,j54/j56,j54/j57,j54/j59,j60/j61,j63/j64,j65/j66,j67/j68,j71/j72,j74/j75,j78/j79,j77/j79,j80/j81,j81/j82,j5/j19}
\edg{eo}{j1/j3,j5/j7,j7/j9,j7/j13,j11/j13,j17/j13,j13/j25,j22/j27,j27/j28,j33/j34,j35/j36,j34/j38,j39/j40,j41/j42,j42/j43,j45/j46,j21/j53,j48/j49,j48/j51,j53/j54,j61/j62,j64/j62,j62/j66,j68/j69,j70/j71,j74/j70,j76/j77,j78/j77}
\edg{ep}{j6/j7,j9/j13,j10/j11,j13/j14,j15/j13,j13/j22,j25/j27,j28/j29,j34/j35,j34/j39,j38/j40,j41/j40,j43/j40,j47/j48,j48/j21,j54/j58,j66/j70,j68/j70,j73/j74,j70/j76,j70/j78,j71/j77}
\end{pgfonlayer}
\lbs{jL1/365/160/Liam Thorne,jL2/1312/165/Osprey,jL3/870/365/Samantha Blake,jL4/1160/528/Mako,jL5/1228/790/Remora,jL6/1390/925/Neptune,jL7/528/325/Mrs. Money,jL8/133/465/The Intern,jL9/485/568/The Lookout,jL10/245/723/Horizon,jL11/248/925/Sam,jL12/795/703/Sentinel,jL13/983/860/Nadia Conti,jL14/1125/995/Elise,jL15/912/1045/Marlin,jL16/438/1020/EcoVigil,jL17/597/1258/Reef Guardian,jL18/362/1420/Defender,jL19/978/1440/Seawatch}
\ldrs{jL3/j7,jL9/j40,jL10/j42,jL11/j46,jL15/j69,jL16/j62,jL18/j73,jL19/j77}
\end{scope}
% ---------------- panel 11
\begin{scope}[shift={(0,1125.83)},x=0.26786pt,y=-0.14509pt]
\nds{k1/Y/698/140,k2/Y/916/163,k3/Y/591/234,k4/P/729/233,k5/P/790/248,k6/P/873/254,k7/P/676/297,k8/P/862/310,k9/G/778/320,k10/G/787/347,k11/Y/935/320,k12/P/878/360,k13/P/701/374,k14/P/859/398,k15/P/760/455,k16/Y/695/535,k17/Y/793/550,k18/Y/1075/172,k19/P/1127/207,k20/G/1097/435,k21/P/1172/440,k22/Y/1228/370,k23/G/1318/432,k24/P/1264/510,k25/Y/1357/500,k26/G/1150/572,k27/Y/441/213,k28/P/411/291,k29/O/378/395,k30/Y/282/347,k31/Y/208/405,k32/P/290/443,k33/Y/491/421,k34/P/415/483,k35/P/371/509,k36/Y/462/533,k37/Y/150/548,k38/P/230/590,k39/O/317/585,k40/P/180/613,k41/Y/182/668,k42/Y/91/668,k43/P/418/692,k44/Y/517/692,k45/P/273/747,k46/O/368/779,k47/Y/487/775,k48/Y/171/800,k49/Y/297/822,k50/Y/247/858,k51/P/338/870,k52/Y/224/1000,k53/Y/153/1055,k54/P/232/1070,k55/G/303/1142,k56/Y/465/1083,k57/Y/564/1103,k58/P/502/1165,k59/G/413/1215,k60/P/313/1197,k61/P/339/1240,k62/G/535/1255,k63/P/480/1305,k64/Y/532/1375,k65/G/758/830,k66/P/870/823,k67/Y/795/763,k68/Y/883/738,k69/Y/742/940,k70/P/856/930,k71/G/992/915,k72/Y/1028/653,k73/P/1057/730,k74/P/1160/893,k75/O/1237/912,k76/Y/1228/690,k77/P/1250/790,k78/P/1311/812,k79/Y/1359/737,k80/P/1378/637,k81/P/1444/685,k82/P/1367/845,k83/Y/1463/842,k84/Y/1279/860,k85/Y/1274/950,k86/P/1084/965,k87/P/1132/973,k88/P/958/1037,k89/Y/1067/1075,k90/Y/1195/1065,k91/P/1246/1040,k92/P/1299/1048,k93/Y/1385/1092,k94/O/1267/1137,k95/P/1236/1228,k96/G/945/1138,k97/P/853/1045,k98/Y/755/1057,k99/G/775/1160,k100/P/694/1195,k101/P/744/1258,k102/P/953/1282,k103/O/917/1355,k104/P/816/1375,k105/Y/733/1400,k106/P/1015/1353,k107/Y/1094/1335,k108/P/903/1420}
\begin{pgfonlayer}{edges}
\edg{eg}{k1/k4,k2/k6,k3/k7,k6/k11,k11/k12,k15/k16,k15/k17,k18/k19,k21/k22,k24/k25,k27/k28,k30/k32,k31/k32,k33/k34,k34/k36,k35/k36,k37/k38,k37/k40,k40/k41,k40/k42,k43/k44,k45/k48,k45/k50,k49/k51,k50/k51,k52/k54,k53/k54,k56/k58,k57/k58,k63/k64,k67/k66,k68/k66,k69/k70,k72/k73,k74/k84,k76/k77,k77/k79,k79/k80,k79/k81,k78/k79,k82/k83,k75/k85,k82/k84,k86/k89,k87/k90,k90/k91,k91/k92,k92/k93,k98/k97,k105/k104,k106/k107}
\edg{eo}{k4/k9,k6/k9,k7/k9,k8/k10,k10/k12,k13/k9,k14/k10,k15/k9,k21/k26,k24/k26,k29/k34,k32/k39,k39/k38,k39/k43,k45/k46,k46/k51,k54/k55,k60/k59,k58/k62,k65/k66,k70/k71,k73/k26,k71/k86,k71/k87,k75/k78,k75/k82,k75/k92,k92/k94,k71/k88,k97/k99,k99/k101,k102/k103,k103/k106}
\edg{ep}{k5/k9,k6/k10,k7/k10,k8/k9,k9/k12,k13/k10,k14/k9,k10/k15,k20/k21,k23/k24,k28/k29,k32/k29,k35/k39,k38/k40,k39/k45,k54/k59,k61/k59,k58/k59,k59/k63,k55/k60,k66/k71,k73/k71,k71/k74,k86/k75,k87/k75,k75/k91,k94/k95,k88/k96,k71/k97,k100/k99,k104/k103,k103/k108}
\end{pgfonlayer}
\lbs{kL1/1063/365/The Accountant,kL2/800/428/Miranda Jordan,kL3/1395/362/Rodriguez,kL4/1207/635/Boss,kL5/377/405/Mako,kL6/360/635/Neptune,kL7/450/745/Remora,kL8/267/1112/The Lookout,kL9/455/1258/The Intern,kL10/650/1340/Mrs. Money,kL11/598/888/Nadia Conti,kL12/932/862/Liam Thorne,kL13/1138/818/EcoVigil,kL14/1145/1155/The Middleman,kL15/1345/1310/Reef Guardian,kL16/672/1073/Elise,kL17/872/1218/Seawatch}
\ldrs{kL3/k23,kL10/k62,kL13/k75,kL15/k94,kL16/k99,kL17/k103}
\end{scope}
% ---------------- panel 12
\begin{scope}[shift={(414.17,1125.83)},x=0.26786pt,y=-0.14509pt]
\nds{l1/O/594/140,l2/P/659/175,l3/O/745/200,l4/P/831/205,l5/Y/883/152,l6/Y/600/222,l7/P/757/273,l8/Y/829/282,l9/P/988/245,l10/O/1036/202,l11/G/338/315,l12/Y/408/278,l13/Y/479/314,l14/P/406/387,l15/P/380/463,l16/Y/228/420,l17/Y/166/483,l18/P/257/517,l19/G/395/570,l20/G/340/605,l21/Y/554/455,l22/P/513/568,l23/P/110/630,l24/P/287/672,l25/Y/237/735,l26/Y/253/780,l27/P/351/797,l28/Y/711/505,l29/P/683/625,l30/P/762/652,l31/Y/647/670,l32/Y/519/700,l33/P/455/765,l34/Y/417/833,l35/P/501/838,l36/Y/702/755,l37/P/725/817,l38/O/813/740,l39/Y/902/505,l40/P/875/608,l41/P/932/713,l42/Y/1017/683,l43/P/818/875,l44/P/854/888,l45/Y/932/885,l46/Y/1133/320,l47/P/1185/395,l48/O/1222/328,l49/O/1020/398,l50/P/1096/455,l51/O/1199/517,l52/P/1275/528,l53/O/1334/475,l54/P/1321/545,l55/P/1152/625,l56/P/1251/618,l57/Y/1334/634,l58/Y/1269/702,l59/P/1367/768,l60/Y/1441/768,l61/Y/1333/858,l62/Y/1405/862,l63/G/1160/742,l64/P/1185/845,l65/G/1214/930,l66/P/66/852,l67/Y/82/917,l68/Y/232/997,l69/P/347/990,l70/Y/483/948,l71/G/514/975,l72/P/606/968,l73/O/751/1003,l74/P/917/1030,l75/Y/1040/1043,l76/Y/293/1113,l77/Y/304/1185,l78/P/420/1127,l79/P/490/1127,l80/Y/395/1187,l81/Y/536/1175,l82/Y/625/1080,l83/P/637/1132,l84/P/688/1110,l85/O/586/1217,l86/P/727/1187,l87/Y/793/1305,l88/P/801/1128,l89/G/913/1103,l90/Y/866/1215,l91/Y/884/1272,l92/Y/940/1227,l93/P/506/1330,l94/Y/415/1355,l95/P/587/1320,l96/O/580/1390,l97/P/659/1352,l98/Y/743/1420,l99/G/1286/1065,l100/P/1251/1145,l101/Y/1324/1145,l102/G/1177/1157,l103/Y/1216/1226}
\begin{pgfonlayer}{edges}
\edg{eg}{l4/l5,l6/l2,l7/l8,l4/l8,l12/l14,l13/l14,l16/l18,l17/l18,l21/l22,l23/l20,l25/l27,l26/l27,l24/l25,l20/l32,l22/l31,l28/l29,l29/l31,l31/l30,l32/l31,l32/l33,l33/l34,l34/l35,l32/l35,l31/l36,l36/l37,l39/l40,l41/l42,l44/l45,l43/l45,l46/l47,l56/l57,l56/l58,l52/l57,l57/l59,l59/l60,l59/l61,l59/l62,l66/l67,l68/l69,l70/l71,l74/l75,l76/l78,l77/l78,l80/l78,l81/l83,l80/l81,l86/l87,l88/l90,l88/l91,l89/l92,l93/l94,l97/l98,l100/l101,l100/l103,l82/l84}
\edg{eo}{l1/l2,l3/l4,l3/l7,l11/l14,l18/l20,l19/l20,l19/l22,l19/l33,l29/l38,l30/l38,l37/l38,l47/l48,l50/l51,l51/l52,l52/l53,l51/l55,l64/l65,l69/l71,l72/l73,l73/l74,l27/l71,l71/l88,l78/l85,l73/l85,l73/l86,l85/l93,l95/l96,l85/l97,l43/l73,l44/l73,l102/l100,l71/l85}
\edg{ep}{l2/l3,l9/l10,l14/l15,l15/l19,l20/l24,l20/l27,l40/l38,l38/l41,l47/l51,l49/l50,l51/l54,l53/l54,l51/l56,l55/l63,l63/l64,l71/l72,l35/l71,l78/l71,l79/l85,l83/l73,l84/l73,l85/l86,l88/l89,l85/l95,l93/l96,l96/l97,l37/l73,l99/l100}
\end{pgfonlayer}
\lbs{lL1/772/150/Horizon,lL2/482/205/EcoVigil,lL3/930/325/Serenity,lL4/1153/150/Sentinel,lL5/170/345/Liam Thorne,lL6/465/495/Nadia Conti,lL7/307/642/Rodriguez,lL8/908/800/Neptune,lL9/1078/822/The Lookout,lL10/1375/257/Seawatch,lL11/1383/402/Defender,lL12/1060/550/Reef Guardian,lL13/1048/968/Sam,lL14/1313/992/The Middleman,lL15/687/898/Remora,lL16/548/1052/Davis,lL17/858/1158/Small Fry,lL18/672/1280/Mako,lL19/482/1420/Osprey,lL20/1140/1310/The Accountant}
\ldrs{lL10/l48,lL13/l65,lL15/l73,lL20/l102,lL9/l63}
\end{scope}
% ---------------- panel 13 (rough)
\begin{scope}
\nds{m1/O/132/1372,m2/G/185/1382,m3/G/120/1398,m4/P/98/1392,m5/Y/78/1380,m6/Y/66/1400,m7/P/155/1385,m8/Y/112/1362,m9/P/228/1372,m10/Y/250/1362,m11/O/320/1385,m12/P/290/1378,m13/G/262/1398,m14/G/238/1425,m15/P/205/1412,m16/Y/300/1412,m17/P/320/1425,m18/G/12/1438,m19/G/22/1420,m20/G/35/1458,m21/G/22/1480,m22/P/50/1445,m23/Y/65/1430,m24/O/150/1455,m25/G/210/1440,m26/O/330/1462,m27/G/238/1466,m28/G/352/1488,m29/O/157/1492,m30/O/285/1483,m31/O/140/1500,m32/O/225/1508,m33/P/100/1480,m34/Y/85/1500,m35/P/120/1520,m36/Y/100/1535,m37/P/180/1520,m38/Y/200/1540,m39/P/260/1495,m40/Y/280/1530,m41/P/310/1470,m42/Y/370/1455,m43/P/365/1505,m44/Y/385/1520,m45/P/190/1465,m46/Y/60/1508,m47/P/70/1520,m48/Y/400/1440,m49/P/340/1440,m50/Y/390/1408}
\begin{pgfonlayer}{edges}
\edg{eg}{m5/m4,m6/m4,m8/m1,m10/m9,m16/m17,m23/m22,m34/m33,m36/m35,m38/m37,m40/m39,m42/m41,m44/m43,m46/m47,m48/m49,m50/m49}
\edg{eo}{m4/m3,m1/m7,m7/m2,m9/m2,m12/m11,m13/m12,m15/m25,m24/m29,m29/m31,m29/m32,m29/m37,m33/m29,m30/m39,m26/m41,m28/m43,m22/m20,m45/m29,m25/m45,m27/m30}
\edg{ep}{m3/m1,m2/m15,m14/m15,m14/m17,m19/m22,m18/m22,m21/m22,m24/m25,m31/m35,m32/m39,m30/m49,m26/m49,m27/m45,m13/m14,m41/m30,m28/m41}
\end{pgfonlayer}
\lbs{mL1/155/1369/Neptune,mL2/215/1384/Nadia Conti,mL3/305/1373/Knowles,mL4/295/1394/Mrs. Money,mL5/108/1409/Davis,mL6/40/1415/Rodriguez,mL7/272/1430/The Intern,mL8/26/1442/Boss,mL9/138/1447/Remora,mL10/180/1447/The Lookout,mL11/307/1455/Seawatch,mL12/73/1469/The Accountant,mL13/254/1476/Sam,mL14/356/1476/Liam Thorne,mL15/56/1487/The Middleman,mL16/183/1487/Mako,mL17/302/1497/Horizon,mL18/119/1506/Sentinel,mL19/253/1511/Reef Guardian}
\end{scope}
% ---------------- panel 14 (rough)
\begin{scope}
\nds{n1/G/592/1382,n2/G/560/1395,n3/O/648/1402,n4/G/762/1410,n5/O/700/1422,n6/O/470/1425,n7/G/556/1432,n8/O/612/1445,n9/O/716/1452,n10/O/608/1462,n11/O/478/1478,n12/O/745/1486,n13/G/490/1497,n14/O/446/1500,n15/G/525/1508,n16/G/560/1505,n17/G/668/1525,n18/O/790/1500,n19/G/570/1545,n20/G/705/1535,n21/P/615/1395,n22/Y/600/1370,n23/P/680/1395,n24/Y/700/1375,n25/P/740/1420,n26/Y/800/1400,n27/P/520/1410,n28/Y/500/1390,n29/P/455/1450,n30/Y/430/1440,n31/P/520/1455,n32/P/560/1470,n33/P/650/1470,n34/P/760/1455,n35/Y/790/1440,n36/P/770/1520,n37/Y/800/1530,n38/P/520/1485,n39/Y/460/1530,n40/P/600/1500,n41/P/640/1510,n42/Y/620/1540,n43/P/720/1510,n44/Y/740/1545,n45/P/540/1525,n46/Y/510/1550,n47/P/680/1480,n48/Y/820/1470}
\begin{pgfonlayer}{edges}
\edg{eg}{n22/n21,n24/n23,n26/n25,n28/n27,n30/n29,n35/n34,n37/n36,n39/n38,n42/n41,n44/n43,n46/n45,n48/n12}
\edg{eo}{n21/n1,n1/n3,n3/n23,n23/n5,n5/n25,n25/n4,n27/n6,n6/n29,n7/n8,n8/n10,n10/n32,n31/n11,n11/n38,n38/n13,n13/n14,n10/n33,n33/n9,n9/n34,n34/n12,n12/n18,n40/n16,n41/n17,n43/n20,n45/n19,n47/n10,n36/n18}
\edg{ep}{n2/n27,n2/n21,n7/n32,n31/n6,n29/n11,n38/n15,n15/n40,n40/n10,n10/n41,n17/n43,n9/n47,n5/n9,n16/n45,n4/n34,n36/n12,n7/n2}
\end{pgfonlayer}
\lbs{nL1/625/1378/The Lookout,nL2/545/1398/The Intern,nL3/658/1411/Horizon,nL4/780/1410/Liam Thorne,nL5/708/1427/Reef Guardian,nL6/482/1417/Remora,nL7/583/1440/Nadia Conti,nL8/606/1450/Defender,nL9/700/1460/EcoVigil,nL10/629/1467/Mako,nL11/504/1474/Small Fry,nL12/742/1498/Sentinel,nL13/508/1500/Davis,nL14/444/1510/Neptune,nL15/522/1515/Boss,nL16/586/1513/Knowles,nL17/633/1526/The Middleman,nL18/796/1517/Seawatch,nL19/591/1552/Rodriguez,nL20/759/1551/The Accountant}
\end{scope}
\end{tikzpicture}
\end{document}
